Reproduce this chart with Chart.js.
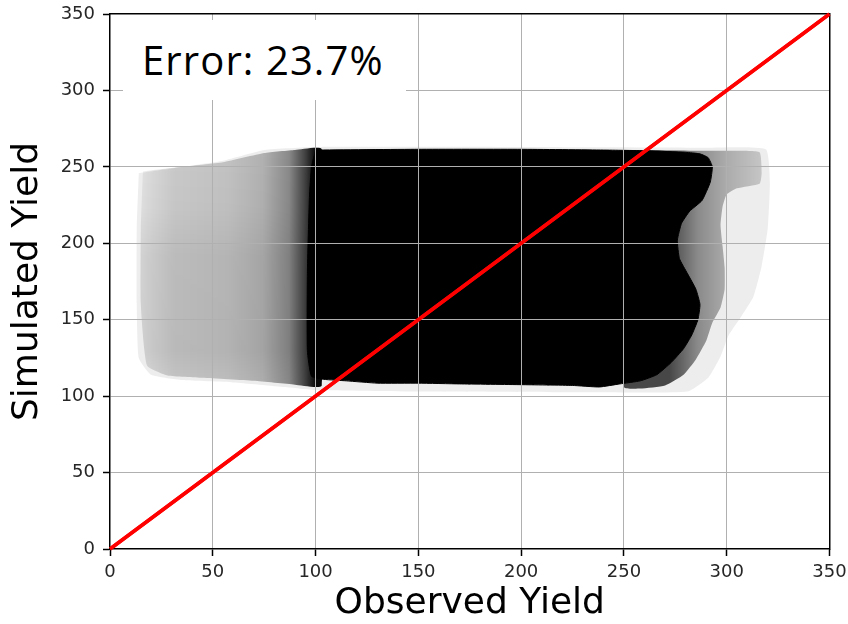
<!DOCTYPE html>
<html>
<head>
<meta charset="utf-8">
<script src="https://cdn.jsdelivr.net/npm/chart.js@4.4.1/dist/chart.umd.min.js"></script>
<style>
  html, body { margin: 0; padding: 0; background: #fff; }
  #wrap { position: relative; width: 848px; height: 624px; }
  #note { position: absolute; left: 123px; top: 20px; width: 283px; height: 80px; background: #fff; }
  #note span { position: absolute; left: 19px; top: 20px; font-family: 'Open Sans', sans-serif; font-size: 40px; line-height: 40px; color: #000; white-space: nowrap; letter-spacing: 1.1px; }
</style>
</head>
<body>
<div id="wrap">
  <canvas id="c" width="848" height="624"></canvas>
  <div id="note"><span>Error: 23.7%</span></div>
</div>
<script>
// ---- Data (Observed vs Simulated yield) ----
const xTickValues = [0, 50, 100, 150, 200, 250, 300, 350];
const yTickValues = [0, 50, 100, 150, 200, 250, 300, 350];

// 1:1 reference line
const oneToOneObserved = [0, 350];
const oneToOneSimulated = [0, 350];

// Outline of the saturated (solid black) part of the point cloud
const coreObserved  = [100, 150, 200, 240, 262, 280, 287, 291, 293, 292, 288, 282, 278, 276, 277, 281, 285, 287, 286, 283, 279, 273, 266, 258, 248, 238, 225, 200, 170, 150, 130, 115, 104, 98, 96, 96, 97, 98, 100];
const coreSimulated = [261, 261.5, 261.5, 261, 260.5, 259.5, 258.5, 256, 250, 240, 228, 221, 213, 202, 190, 180, 170, 160, 150, 140, 131, 122, 114, 110, 108, 106, 107, 107.5, 108, 108.5, 108.5, 110, 111, 113, 130, 180, 230, 250, 261];

// Medium-density fringe on the right side of the cloud
const rightFringeObserved  = [250, 290, 305, 316, 317, 316, 305, 300, 298, 297, 298, 299, 299, 297, 293, 290, 285, 279, 270, 258, 250, 250];
const rightFringeSimulated = [261, 260.5, 260.5, 259.5, 246, 239, 236, 232, 224, 212, 198, 184, 170, 158, 148, 136, 124, 114, 107, 105, 106, 261];

// Sparse points on the left (low observed yield)
const leftSparseObserved  = [16, 35, 55, 75, 90, 103, 103, 90, 70, 45, 28, 18, 15, 15, 16];
const leftSparseSimulated = [247, 250, 253, 259, 261, 261.5, 107, 107.5, 110, 112, 113.5, 120, 160, 210, 247];

// Faint outer halo of scattered points around the whole cloud
const haloObserved  = [14, 30, 55, 75, 100, 200, 290, 319, 321, 320, 317, 313, 307, 301, 297, 291, 281, 240, 150, 100, 85, 60, 35, 20, 14, 13, 13, 14];
const haloSimulated = [246, 249, 254, 261, 263, 263, 262.5, 261.5, 240, 210, 185, 165, 152, 140, 126, 112, 103, 102.5, 103, 104, 106, 109, 110.5, 114, 125, 160, 210, 246];

const toPoints = (xs, ys) => xs.map((x, i) => ({ x: x, y: ys[i] }));

const gradient = (axis, from, to, stops, fallback) => (context) => {
  const chart = context.chart;
  if (!chart.chartArea) return fallback;
  const s = chart.scales[axis];
  const a = s.getPixelForValue(from), b = s.getPixelForValue(to);
  const g = axis === 'x' ? chart.ctx.createLinearGradient(a, 0, b, 0) : chart.ctx.createLinearGradient(0, a, 0, b);
  stops.forEach(([p, c]) => g.addColorStop(p, c));
  return g;
};

const leftGradient = gradient('x', 14, 100, [
  [0.00, 'rgba(0,0,0,0.04)'],
  [0.08, 'rgba(0,0,0,0.09)'],
  [0.20, 'rgba(0,0,0,0.15)'],
  [0.50, 'rgba(0,0,0,0.18)'],
  [0.70, 'rgba(0,0,0,0.25)'],
  [0.85, 'rgba(0,0,0,0.42)'],
  [0.94, 'rgba(0,0,0,0.72)'],
  [1.00, 'rgba(0,0,0,0.97)']
], 'rgba(0,0,0,0.2)');

// lower/middle part of the left block is a bit denser than its top
const leftVertical = gradient('y', 262, 106, [
  [0.00, 'rgba(0,0,0,0.00)'],
  [0.25, 'rgba(0,0,0,0.02)'],
  [0.45, 'rgba(0,0,0,0.07)'],
  [0.85, 'rgba(0,0,0,0.08)'],
  [1.00, 'rgba(0,0,0,0.02)']
], 'rgba(0,0,0,0.05)');

const rightGradient = gradient('x', 272, 318, [
  [0.00, 'rgba(0,0,0,0.70)'],
  [0.30, 'rgba(0,0,0,0.42)'],
  [0.60, 'rgba(0,0,0,0.28)'],
  [1.00, 'rgba(0,0,0,0.16)']
], 'rgba(0,0,0,0.35)');

const polygon = (label, xs, ys, color, order, border) => ({
  type: 'scatter', label: label, data: toPoints(xs, ys), showLine: true, fill: 'shape',
  backgroundColor: color, borderColor: border, borderWidth: 1, pointRadius: 0, tension: 0.15, order: order
});

const gridColor = (ctx) => (ctx.tick && (ctx.tick.value === 0 || ctx.tick.value === 350)) ? 'rgba(0,0,0,0)' : '#b0b0b0';
const tickFont = { family: 'DejaVu Sans', size: 18 };
const titleFont = { family: 'DejaVu Sans', size: 36, lineHeight: 1 };

// Draw the 1:1 line once more after the grid, so it sits above the grid like in the original
const lineOnTop = {
  id: 'lineOnTop',
  afterDraw(chart) {
    const meta = chart.getDatasetMeta(0);
    if (meta && meta.dataset) {
      chart.ctx.save();
      meta.dataset.draw(chart.ctx, chart.chartArea);
      chart.ctx.restore();
    }
  }
};

new Chart(document.getElementById('c'), {
  data: {
    datasets: [
      { type: 'scatter', label: '1:1', data: toPoints(oneToOneObserved, oneToOneSimulated), showLine: true, fill: false,
        borderColor: '#ff0000', borderWidth: 3.5, pointRadius: 0, order: 0 },
      polygon('dense', coreObserved, coreSimulated, '#000', 1, '#000'),
      polygon('fringe', rightFringeObserved, rightFringeSimulated, rightGradient, 2, 'rgba(0,0,0,0)'),
      polygon('sparse-vertical', leftSparseObserved, leftSparseSimulated, leftVertical, 3, 'rgba(0,0,0,0)'),
      polygon('sparse', leftSparseObserved, leftSparseSimulated, leftGradient, 4, 'rgba(0,0,0,0)'),
      polygon('halo', haloObserved, haloSimulated, 'rgba(0,0,0,0.07)', 5, 'rgba(0,0,0,0)')
    ]
  },
  plugins: [lineOnTop],
  options: {
    responsive: false, animation: false, devicePixelRatio: 1,
    layout: { padding: 0 },
    plugins: { legend: { display: false }, tooltip: { enabled: false } },
    scales: {
      x: {
        type: 'linear', position: 'bottom', min: 0, max: 350,
        afterBuildTicks: (s) => { s.ticks = xTickValues.map(v => ({ value: v })); },
        ticks: { font: tickFont, color: '#262626', padding: 6, maxRotation: 0, autoSkip: false },
        grid: { z: 1, color: gridColor, lineWidth: 1, tickLength: 7, tickColor: '#000', tickWidth: 1.5 },
        border: { z: 1, color: '#000', width: 1.5 },
        title: { display: true, text: 'Observed Yield', font: titleFont, color: '#000', padding: { top: 0, bottom: 2 } },
        afterFit: (s) => { s.height = 75; s.paddingLeft = 0; s.paddingRight = 0; }
      },
      y: {
        type: 'linear', position: 'left', min: 0, max: 350,
        afterBuildTicks: (s) => { s.ticks = yTickValues.map(v => ({ value: v })); },
        ticks: { font: tickFont, color: '#262626', padding: 8, autoSkip: false },
        grid: { z: 1, color: gridColor, lineWidth: 1, tickLength: 7, tickColor: '#000', tickWidth: 1.5 },
        border: { z: 1, color: '#000', width: 1.5 },
        title: { display: true, text: 'Simulated Yield', font: titleFont, color: '#000', padding: { top: 10, bottom: 0 } },
        afterFit: (s) => { s.width = 110; s.paddingTop = 0; s.paddingBottom = 0; }
      },
      x2: {
        type: 'linear', position: 'top', min: 0, max: 350,
        ticks: { display: false }, grid: { display: false, z: 1 },
        border: { z: 1, display: true, color: '#000', width: 1.5 },
        afterFit: (s) => { s.height = 14; s.paddingLeft = 0; s.paddingRight = 0; }
      },
      y2: {
        type: 'linear', position: 'right', min: 0, max: 350,
        ticks: { display: false }, grid: { display: false, z: 1 },
        border: { z: 1, display: true, color: '#000', width: 1.5 },
        afterFit: (s) => { s.width = 18.5; s.paddingTop = 0; s.paddingBottom = 0; }
      }
    }
  }
});
</script>
</body>
</html>
